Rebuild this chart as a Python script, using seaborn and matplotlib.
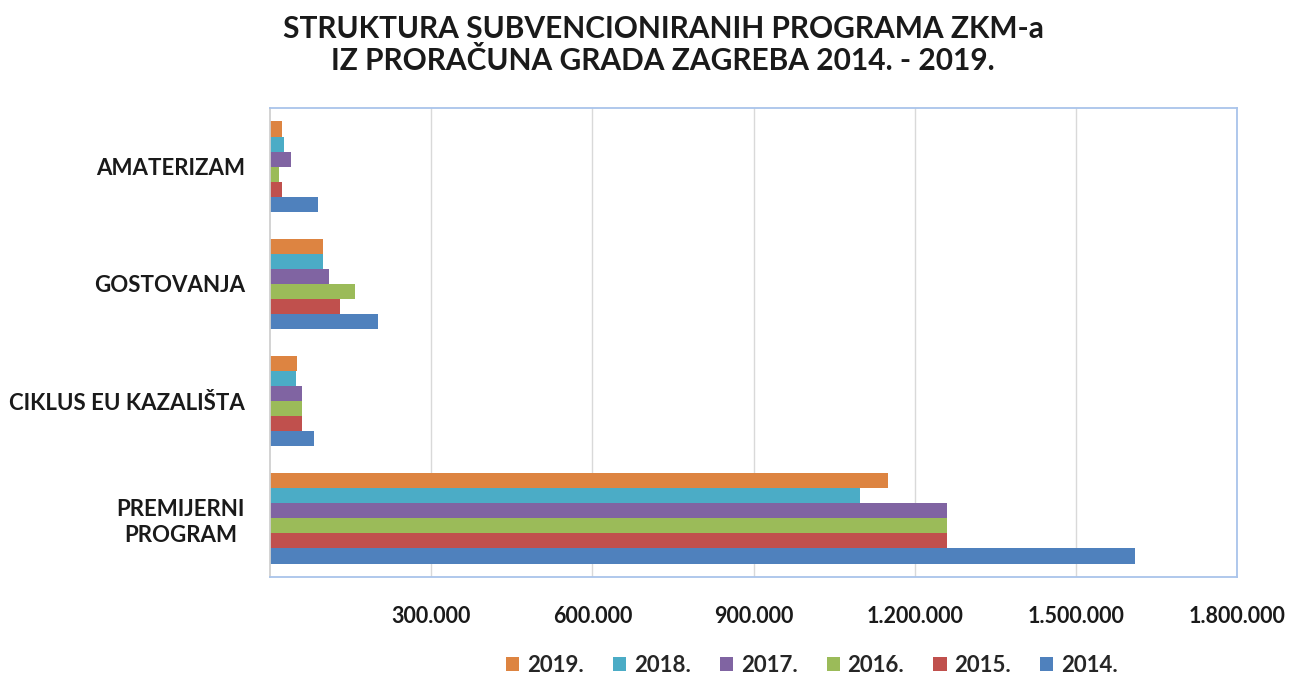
import matplotlib
matplotlib.use("Agg")
import matplotlib.pyplot as plt
import seaborn as sns
import pandas as pd

categories = ["AMATERIZAM", "GOSTOVANJA", "CIKLUS EU KAZALIŠTA", "PREMIJERNI\nPROGRAM"]
years = ["2019.", "2018.", "2017.", "2016.", "2015.", "2014."]
values = {
    "2019.": [23000, 99000, 50000, 1150000],
    "2018.": [26000, 99000, 49000, 1099000],
    "2017.": [39000, 109000, 60000, 1261000],
    "2016.": [17000, 159000, 60000, 1261000],
    "2015.": [23000, 131000, 60000, 1261000],
    "2014.": [89000, 201000, 81000, 1610000],
}
colors = ["#dd8441", "#4bacc6", "#8064a2", "#9bbb59", "#c0504d", "#4f81bd"]
xticks = [300000, 600000, 900000, 1200000, 1500000, 1800000]
xtick_labels = ["300.000", "600.000", "900.000", "1.200.000", "1.500.000", "1.800.000"]
title = "STRUKTURA SUBVENCIONIRANIH PROGRAMA ZKM-a\nIZ PRORAČUNA GRADA ZAGREBA 2014. - 2019."

rows = []
for y in years:
    for c, v in zip(categories, values[y]):
        rows.append({"kategorija": c, "godina": y, "iznos": v})
df = pd.DataFrame(rows)

sns.set_theme(style="white")
plt.rcParams["font.family"] = ["Lato", "DejaVu Sans"]

W, H = 1295, 675
fig = plt.figure(figsize=(W / 100, H / 100), dpi=100)
ax = fig.add_axes([270 / W, (H - 577) / H, 967 / W, 469 / H])

sns.barplot(data=df, y="kategorija", x="iznos", hue="godina", order=categories,
            hue_order=years, palette=colors, orient="h", width=0.77, gap=0,
            saturation=1, edgecolor="none", linewidth=0, ax=ax, legend=True)

ax.set_xlim(0, 1800000)
ax.set_ylim(3.5, -0.5)
ax.set_xticks(xticks)
ax.set_xticklabels(xtick_labels, fontsize=15.5, fontweight="bold", color="#1a1a1a")
ax.tick_params(axis="x", length=0, pad=21)
ax.tick_params(axis="y", length=0, pad=18)
for lbl in ax.get_yticklabels():
    lbl.set_fontsize(16)
    lbl.set_fontweight("bold")
    lbl.set_color("#1a1a1a")
    lbl.set_multialignment("center")
    lbl.set_linespacing(1.3)
ax.set_xlabel("")
ax.set_ylabel("")
ax.grid(axis="x", color="#d9d9d9", linewidth=1)
ax.set_axisbelow(True)
for s in ["top", "right", "bottom"]:
    ax.spines[s].set_color("#a9c4eb")
    ax.spines[s].set_linewidth(1.3)
ax.spines["left"].set_color("#d0d0d0")
ax.spines["left"].set_linewidth(1.3)

handles, labels = ax.get_legend_handles_labels()
ax.legend_.remove()
fig.legend(handles, labels, loc="center", bbox_to_anchor=(812 / W, 1 - 665 / H),
           ncol=6, frameon=False, handlelength=0.6, handleheight=0.6,
           handletextpad=0.35, columnspacing=1.3,
           prop={"family": ["Lato", "DejaVu Sans"], "weight": "bold", "size": 16})

fig.text(663 / W, 1 - 45 / H, title, ha="center", va="center", fontsize=21.5,
         fontweight="bold", color="#1a1a1a", linespacing=1.2)

fig.savefig("out.png", dpi=100)
